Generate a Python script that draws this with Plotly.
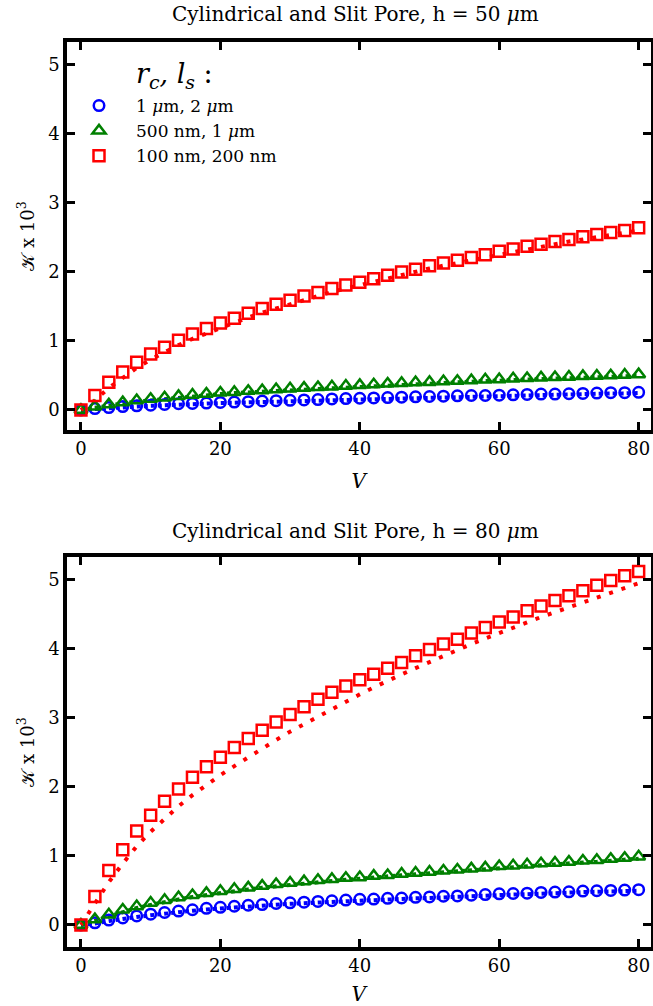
import plotly.graph_objects as go

V = list(range(0, 81, 2))

# h = 50 um panel
blue_50 = [0, 0.02, 0.035, 0.05, 0.06, 0.07, 0.08, 0.09, 0.095, 0.10, 0.11, 0.115, 0.12, 0.13,
           0.135, 0.14, 0.145, 0.15, 0.16, 0.165, 0.17, 0.175, 0.18, 0.185, 0.19, 0.195, 0.20,
           0.205, 0.21, 0.21, 0.215, 0.22, 0.225, 0.23, 0.23, 0.235, 0.24, 0.245, 0.25, 0.25, 0.255]
blue_50_cyl = [0, 0.015, 0.03, 0.04, 0.05, 0.06, 0.07, 0.08, 0.085, 0.09, 0.10, 0.105, 0.11, 0.12,
               0.125, 0.13, 0.135, 0.14, 0.15, 0.155, 0.16, 0.165, 0.17, 0.175, 0.18, 0.185, 0.19,
               0.195, 0.20, 0.20, 0.205, 0.21, 0.215, 0.22, 0.22, 0.225, 0.23, 0.235, 0.24, 0.24, 0.245]
green_50 = [0, 0.05, 0.08, 0.11, 0.14, 0.16, 0.18, 0.20, 0.22, 0.235, 0.25, 0.26, 0.275, 0.285,
            0.30, 0.31, 0.32, 0.33, 0.34, 0.35, 0.36, 0.37, 0.38, 0.39, 0.40, 0.405, 0.415, 0.42,
            0.43, 0.44, 0.445, 0.455, 0.46, 0.47, 0.475, 0.48, 0.49, 0.495, 0.50, 0.51, 0.515]
green_50_cyl = [0, 0.035, 0.065, 0.095, 0.12, 0.14, 0.16, 0.18, 0.20, 0.215, 0.23, 0.245, 0.255, 0.27,
                0.28, 0.29, 0.30, 0.31, 0.32, 0.33, 0.34, 0.35, 0.36, 0.37, 0.38, 0.385, 0.395, 0.40,
                0.41, 0.42, 0.425, 0.435, 0.44, 0.45, 0.455, 0.46, 0.47, 0.475, 0.48, 0.49, 0.495]
red_50 = [0, 0.21, 0.40, 0.55, 0.69, 0.81, 0.91, 1.01, 1.10, 1.18, 1.26, 1.33, 1.40, 1.47,
          1.53, 1.59, 1.65, 1.70, 1.76, 1.81, 1.85, 1.90, 1.95, 2.00, 2.04, 2.09, 2.13, 2.17,
          2.21, 2.25, 2.30, 2.33, 2.37, 2.40, 2.44, 2.47, 2.51, 2.54, 2.57, 2.60, 2.64]
red_50_cyl = [0, 0.14, 0.32, 0.47, 0.61, 0.73, 0.84, 0.94, 1.03, 1.11, 1.19, 1.27, 1.34, 1.41,
              1.47, 1.54, 1.60, 1.65, 1.71, 1.76, 1.81, 1.86, 1.91, 1.96, 2.00, 2.05, 2.09, 2.13,
              2.17, 2.21, 2.25, 2.29, 2.33, 2.36, 2.40, 2.44, 2.47, 2.50, 2.54, 2.57, 2.60]

# h = 80 um panel
blue_80 = [0, 0.03, 0.07, 0.10, 0.13, 0.155, 0.18, 0.20, 0.22, 0.24, 0.255, 0.27, 0.285, 0.295,
           0.31, 0.32, 0.33, 0.34, 0.35, 0.36, 0.37, 0.375, 0.385, 0.39, 0.40, 0.405, 0.415, 0.42,
           0.43, 0.44, 0.45, 0.455, 0.46, 0.47, 0.475, 0.48, 0.49, 0.495, 0.50, 0.505, 0.51]
blue_80_cyl = [0, 0.02, 0.055, 0.09, 0.115, 0.14, 0.165, 0.185, 0.205, 0.225, 0.24, 0.255, 0.27, 0.28,
               0.295, 0.305, 0.315, 0.325, 0.335, 0.345, 0.355, 0.36, 0.37, 0.375, 0.385, 0.39, 0.40,
               0.405, 0.415, 0.425, 0.435, 0.44, 0.445, 0.455, 0.46, 0.465, 0.475, 0.48, 0.485, 0.49, 0.495]
green_80 = [0, 0.08, 0.15, 0.22, 0.27, 0.32, 0.36, 0.40, 0.43, 0.46, 0.49, 0.52, 0.54, 0.565,
            0.59, 0.61, 0.63, 0.65, 0.665, 0.68, 0.69, 0.71, 0.72, 0.74, 0.755, 0.77, 0.785, 0.80,
            0.815, 0.83, 0.85, 0.86, 0.875, 0.89, 0.90, 0.915, 0.93, 0.94, 0.955, 0.97, 0.99]
green_80_cyl = [0, 0.06, 0.13, 0.19, 0.245, 0.29, 0.335, 0.37, 0.405, 0.435, 0.465, 0.49, 0.515, 0.54,
                0.56, 0.585, 0.605, 0.625, 0.64, 0.655, 0.67, 0.69, 0.70, 0.72, 0.735, 0.75, 0.765, 0.78,
                0.795, 0.81, 0.825, 0.84, 0.855, 0.865, 0.88, 0.89, 0.905, 0.915, 0.93, 0.945, 0.96]
red_80 = [0, 0.41, 0.79, 1.09, 1.36, 1.59, 1.79, 1.97, 2.14, 2.29, 2.43, 2.57, 2.70, 2.82,
          2.94, 3.05, 3.16, 3.27, 3.37, 3.46, 3.55, 3.63, 3.72, 3.80, 3.90, 3.99, 4.07, 4.14,
          4.23, 4.31, 4.39, 4.46, 4.55, 4.62, 4.70, 4.77, 4.84, 4.92, 4.99, 5.06, 5.12]
red_80_cyl = [0, 0.32, 0.62, 0.89, 1.14, 1.35, 1.54, 1.72, 1.88, 2.03, 2.17, 2.30, 2.43, 2.56,
              2.68, 2.80, 2.91, 3.02, 3.13, 3.24, 3.34, 3.44, 3.54, 3.63, 3.72, 3.81, 3.90, 3.98,
              4.07, 4.15, 4.23, 4.31, 4.38, 4.46, 4.53, 4.60, 4.67, 4.74, 4.81, 4.88, 4.95]

names = ["1 <i>\u03bc</i>m, 2 <i>\u03bc</i>m", "500 nm, 1 <i>\u03bc</i>m", "100 nm, 200 nm"]
colors = ["#0000ff", "#008000", "#ff0000"]
symbols = ["circle-open", "triangle-up-open", "square-open"]
sizes = [10.5, 11.5, 11]

FONT = "DejaVu Serif"

fig = go.Figure()

panels = [
    ("x", "y", [blue_50, green_50, red_50], [blue_50_cyl, green_50_cyl, red_50_cyl]),
    ("x2", "y2", [blue_80, green_80, red_80], [blue_80_cyl, green_80_cyl, red_80_cyl]),
]

for p, (xa, ya, slit, cyl) in enumerate(panels):
    # cylindrical pore: dotted lines
    for i in range(3):
        dash = "4px,9px" if i == 2 else "4px,3px"
        fig.add_trace(go.Scatter(
            x=V, y=cyl[i], xaxis=xa, yaxis=ya, mode="lines",
            line=dict(color=colors[i], width=4, dash=dash),
            showlegend=False, hoverinfo="skip",
        ))
    # slit pore: open markers
    for i in range(3):
        fig.add_trace(go.Scatter(
            x=V, y=slit[i], xaxis=xa, yaxis=ya, mode="markers",
            marker=dict(symbol=symbols[i], size=sizes[i], color=colors[i],
                        line=dict(width=2.5, color=colors[i])),
            name=names[i], legendgroup=str(i), showlegend=(p == 0),
        ))

axis_common = dict(
    showline=True, linecolor="black", linewidth=3.5, mirror="allticks",
    ticks="inside", ticklen=8, tickwidth=3, tickcolor="black",
    showgrid=False, zeroline=False,
    tickfont=dict(family=FONT, size=18, color="black"),
)

W, H = 653, 1006
xdom = [67 / W, 650.5 / W]
ydom_top = [1 - 430 / H, 1 - 42 / H]
ydom_bot = [1 - 947 / H, 1 - 557 / H]

ylab = "\U0001D4A6 x 10<sup>3</sup>"

fig.update_layout(
    width=W, height=H,
    margin=dict(l=0, r=0, t=0, b=0),
    paper_bgcolor="white", plot_bgcolor="white",
    font=dict(family=FONT, color="black"),
    xaxis=dict(axis_common, domain=xdom, anchor="y", range=[-2.0, 81.7],
               tickvals=[0, 20, 40, 60, 80],
               title=dict(text="<i>V</i>", font=dict(family=FONT, size=20), standoff=17)),
    yaxis=dict(axis_common, domain=ydom_top, anchor="x", range=[-0.29, 5.33],
               tickvals=[0, 1, 2, 3, 4, 5],
               title=dict(text=ylab, font=dict(family=FONT, size=18), standoff=10)),
    xaxis2=dict(axis_common, domain=xdom, anchor="y2", range=[-2.0, 81.7],
                tickvals=[0, 20, 40, 60, 80],
                title=dict(text="<i>V</i>", font=dict(family=FONT, size=20), standoff=14)),
    yaxis2=dict(axis_common, domain=ydom_bot, anchor="x2", range=[-0.32, 5.33],
                tickvals=[0, 1, 2, 3, 4, 5],
                title=dict(text=ylab, font=dict(family=FONT, size=18), standoff=10)),
    legend=dict(x=62 / W, y=1 - 88 / H, xanchor="left", yanchor="top",
                bgcolor="rgba(0,0,0,0)", font=dict(family=FONT, size=17),
                tracegroupgap=0, traceorder="grouped", itemwidth=64),
    annotations=[
        dict(text="Cylindrical and Slit Pore, h = 50 <i>\u03bc</i>m", x=356 / W, y=1 - 14 / H,
             xref="paper", yref="paper", yanchor="middle", showarrow=False,
             font=dict(family=FONT, size=20)),
        dict(text="Cylindrical and Slit Pore, h = 80 <i>\u03bc</i>m", x=356 / W, y=1 - 531 / H,
             xref="paper", yref="paper", yanchor="middle", showarrow=False,
             font=dict(family=FONT, size=20)),
        dict(text="<i>r</i><sub><i>c</i></sub><i>, l</i><sub><i>s</i></sub> :", x=134 / W, y=1 - 75 / H,
             xref="paper", yref="paper", xanchor="left", yanchor="middle", showarrow=False,
             font=dict(family=FONT, size=27)),
    ],
)

fig.write_html("out.html", config={"displayModeBar": False},
               post_script="document.body.style.margin='0';")
